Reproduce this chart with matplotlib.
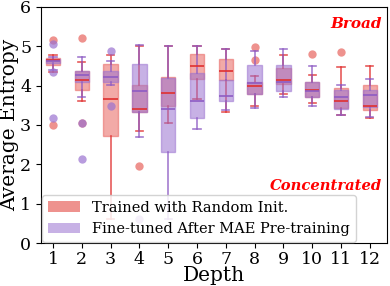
import matplotlib
matplotlib.use("Agg")
import matplotlib.pyplot as plt
from matplotlib.patches import Patch

plt.rcParams['font.family'] = 'DejaVu Serif'

depth = list(range(1, 13))

# Trained with random init.
rand_q1 = [4.53, 3.88, 2.73, 3.33, 3.49, 4.17, 4.15, 3.79, 4.05, 3.71, 3.43, 3.38]
rand_med = [4.66, 4.14, 3.66, 3.40, 3.82, 4.50, 4.38, 4.00, 4.15, 3.89, 3.61, 3.47]
rand_q3 = [4.70, 4.36, 4.55, 4.02, 4.21, 4.80, 4.67, 4.08, 4.44, 4.08, 3.94, 4.02]
rand_lo = [4.35, 3.61, 0.61, 2.85, 3.05, 3.66, 3.32, 3.49, 3.79, 3.55, 3.26, 3.18]
rand_hi = [4.78, 4.59, 4.77, 5.00, 5.00, 5.00, 4.94, 4.25, 4.78, 4.28, 4.46, 4.49]
rand_fl = [[5.17, 3.00], [5.20, 3.05], [], [1.97], [], [], [], [4.97, 4.66], [], [4.81], [4.86], []]

# Fine-tuned after MAE pre-training
mae_q1 = [4.57, 4.09, 4.08, 3.34, 2.31, 3.19, 3.61, 3.79, 3.87, 3.71, 3.40, 3.45]
mae_med = [4.63, 4.26, 4.21, 3.86, 3.40, 3.61, 3.74, 4.06, 4.10, 3.86, 3.72, 3.75]
mae_q3 = [4.68, 4.38, 4.38, 4.55, 4.20, 4.32, 4.15, 4.53, 4.53, 4.08, 3.89, 3.88]
mae_lo = [4.40, 3.72, 4.01, 2.70, 0.60, 2.90, 3.38, 3.44, 3.72, 3.49, 3.25, 3.21]
mae_hi = [4.72, 4.73, 4.62, 5.04, 5.00, 5.00, 4.94, 4.89, 4.93, 4.51, 4.02, 4.17]
mae_fl = [[5.06, 4.34, 3.18], [3.05, 2.13], [4.89, 3.47], [0.61], [], [], [], [], [], [], [], []]

red = '#e8645f'
purple = '#9a72d0'


def stats(q1, med, q3, lo, hi, fl):
    return [dict(q1=a, med=b, q3=c, whislo=d, whishi=e, fliers=f)
            for a, b, c, d, e, f in zip(q1, med, q3, lo, hi, fl)]


fig = plt.figure(figsize=(3.9, 2.86), dpi=100)
ax = fig.add_axes([0.105, 0.150, 0.887, 0.826])

for st, col, lc in [(stats(rand_q1, rand_med, rand_q3, rand_lo, rand_hi, rand_fl), red, '#e03030'),
                    (stats(mae_q1, mae_med, mae_q3, mae_lo, mae_hi, mae_fl), purple, '#8e5cc4')]:
    ax.bxp(st, positions=depth, widths=0.5, patch_artist=True,
           boxprops=dict(facecolor=col, edgecolor=col, alpha=0.55, linewidth=1),
           medianprops=dict(color=lc, linewidth=1.2),
           whiskerprops=dict(color=lc, linewidth=1.2, alpha=0.8),
           capprops=dict(color=lc, linewidth=1.2, alpha=0.8),
           flierprops=dict(marker='o', markerfacecolor=col, markeredgecolor='none',
                           markersize=6, alpha=0.7))

ax.set_xlim(0.58, 12.59)
ax.set_ylim(0, 6)
ax.set_xticks(depth)
ax.set_xticklabels([str(d) for d in depth], fontsize=12.5)
ax.set_yticks(range(7))
ax.tick_params(axis='y', labelsize=12.5)
ax.tick_params(axis='x', pad=2)
ax.set_xlabel('Depth', fontsize=14.5, labelpad=-1)
ax.set_ylabel('Average Entropy', fontsize=14.5, labelpad=1)

ax.text(0.985, 0.955, 'Broad', transform=ax.transAxes, ha='right', va='top',
        color='red', fontsize=11, fontweight='bold', fontstyle='italic')
ax.text(0.985, 0.213, 'Concentrated', transform=ax.transAxes, ha='right', va='bottom',
        color='red', fontsize=10.6, fontweight='bold', fontstyle='italic')

handles = [Patch(facecolor=red, alpha=0.7, label='Trained with Random Init.'),
           Patch(facecolor=purple, alpha=0.55, label='Fine-tuned After MAE Pre-training')]
ax.legend(handles=handles, loc='lower left', fontsize=10.5, borderaxespad=0.1,
          handlelength=2.2, framealpha=0.85)

fig.savefig('out.png', dpi=100)
